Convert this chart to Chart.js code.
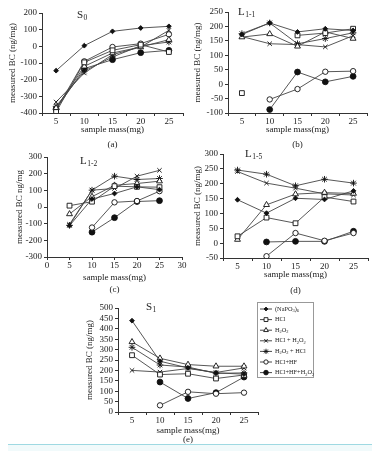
<!DOCTYPE html>
<html>
<head>
<meta charset="utf-8">
<script src="https://cdn.jsdelivr.net/npm/chart.js@4.4.1/dist/chart.umd.min.js"></script>
<style>
  html, body { margin: 0; padding: 0; background: #fff; width: 377px; height: 451px; overflow: hidden; }
  body { position: relative; }
  canvas { position: absolute; }
  #rule { position: absolute; left: 8px; top: 444px; width: 364px; height: 7px; border-top: 1px solid #9fd9e2; background: #f1fafb; }
</style>
</head>
<body>
<canvas id="panelA"></canvas>
<canvas id="panelB"></canvas>
<canvas id="panelC"></canvas>
<canvas id="panelD"></canvas>
<canvas id="panelE"></canvas>
<div id="rule"></div>
<script>
// sample masses (x axis) and the seven treatments
const masses = [5, 10, 15, 20, 25];
const massLabels = ['5', '10', '15', '20', '25'];
const seriesNames = ['(NaPO3)6', 'HCl', 'H2O2', 'HCl + H2O2', 'H2O2 + HCl', 'HCl+HF', 'HCl+HF+H2O2'];

// measured BC (ng/mg), one row per treatment in seriesNames order
const valuesS0 = [
  [-146, 4, 90, 110, 120],
  [-394, -96, -24, 10, -34],
  [-370, -120, -40, -4, 40],
  [-334, -160, -50, -4, 96],
  [-360, -148, -64, 4, 26],
  [-380, -90, -4, 16, 72],
  [-376, -134, -80, -38, -24]
];
const valuesL11 = [
  [172, 212, 181, 192, 186],
  [-31, null, 169, 177, 192],
  [163, 174, 131, 181, 158],
  [165, 140, 137, 129, 168],
  [175, 212, 140, 158, 178],
  [null, -53, -17, 43, 45],
  [null, -88, 42, 8, 27]
];
const valuesL12 = [
  [-112, 48, 81, 121, 104],
  [8, 32, 125, 121, 119],
  [-42, 62, 130, 141, 155],
  [-104, 101, 111, 185, 220],
  [-110, 101, 185, 165, 171],
  [null, -123, 28, 36, 95],
  [null, -151, -64, 33, 38]
];
const valuesL15 = [
  [146, 101, 151, 147, 176],
  [23, 86, 67, 155, 140],
  [12, 129, 165, 170, 167],
  [241, 202, 185, 166, 162],
  [246, 232, 193, 215, 202],
  [null, -44, 34, 8, 34],
  [null, 4, 6, 6, 40]
];
const valuesS1 = [
  [439, 244, 212, 188, 182],
  [273, 180, 184, 161, 178],
  [337, 258, 228, 220, 220],
  [200, 192, 209, 190, 212],
  [311, 226, 216, 186, 188],
  [null, 32, 97, 88, 93],
  [null, 144, 65, 93, 168]
];

// y axis ticks per panel: min, max, step
const ticksS0 = [-400, 200, 100];
const ticksL11 = [-100, 250, 50];
const ticksL12 = [-300, 300, 100];
const ticksL15 = [-50, 300, 50];
const ticksS1 = [0, 500, 50];

const FONT = '"Liberation Serif", "Times New Roman", serif';
const INK = '#222';

const markerStyles = [
  { shape: 'rectRot', r: 2.4, fill: '#111' },
  { shape: 'rect', r: 3.4, fill: '#fff' },
  { shape: 'triangle', r: 3.4, fill: '#fff' },
  { shape: 'crossRot', r: 3.1, fill: '#fff' },
  { shape: 'star', r: 3.3, fill: '#fff' },
  { shape: 'circle', r: 2.7, fill: '#fff' },
  { shape: 'circle', r: 2.9, fill: '#111' }
];

// text with digits set as subscripts (chemical formulas)
function drawFormula(ctx, text, x, y, size) {
  let cx = x;
  for (const part of text.match(/\d+|[^\d]+/g)) {
    const sub = /^\d/.test(part);
    ctx.font = (sub ? size * 0.7 : size) + 'px ' + FONT;
    ctx.fillText(part, cx, y + (sub ? size * 0.3 : 0));
    cx += ctx.measureText(part).width;
  }
}

const panelLabel = {
  id: 'panelLabel',
  afterDraw(chart, args, opts) {
    const ctx = chart.ctx;
    ctx.save();
    ctx.fillStyle = INK;
    ctx.textBaseline = 'middle';
    ctx.textAlign = 'left';
    ctx.font = '11px ' + FONT;
    ctx.fillText(opts.main, opts.x, opts.y);
    const w = ctx.measureText(opts.main).width;
    ctx.font = '7.5px ' + FONT;
    ctx.fillText(opts.sub, opts.x + w + 0.5, opts.y + 3.5);
    ctx.restore();
  }
};

const boxLegend = {
  id: 'boxLegend',
  afterDraw(chart, args, opts) {
    if (!opts.show) return;
    const ctx = chart.ctx;
    ctx.save();
    ctx.strokeStyle = '#999';
    ctx.lineWidth = 1;
    ctx.strokeRect(opts.x + 0.5, opts.y + 0.5, opts.w, opts.h);
    chart.data.datasets.forEach((ds, i) => {
      const y = opts.y + 7 + i * opts.row;
      ctx.strokeStyle = '#333';
      ctx.lineWidth = 0.9;
      ctx.beginPath();
      ctx.moveTo(opts.x + 3, y);
      ctx.lineTo(opts.x + 15, y);
      ctx.stroke();
      const m = markerStyles[i];
      ctx.fillStyle = m.fill;
      ctx.strokeStyle = '#111';
      Chart.helpers.drawPoint(ctx, { pointStyle: m.shape, radius: m.r * 0.8, rotation: 0, borderWidth: 0.9 }, opts.x + 9, y);
      ctx.fillStyle = INK;
      ctx.textBaseline = 'middle';
      ctx.textAlign = 'left';
      drawFormula(ctx, ds.label, opts.x + 18, y, 6.3);
    });
    ctx.restore();
  }
};

const panels = [
  { id: 'panelA', values: valuesS0, yTicks: ticksS0, name: ['S', '0'], nameAt: [77, 15],
    box: [42, 13, 183, 113], yTitleX: 13, t1: 17, t2: 32, yTitle: 'measured BC (ng/mg)', tag: '(a)' },
  { id: 'panelB', values: valuesL11, yTicks: ticksL11, name: ['L', '1-1'], nameAt: [238, 12],
    box: [228, 12, 367, 113], yTitleX: 198, t1: 17, t2: 32, yTitle: 'measured BC (ng/mg)', tag: '(b)' },
  { id: 'panelC', values: valuesL12, yTicks: ticksL12, name: ['L', '1-2'], nameAt: [80, 161],
    box: [47, 157, 182, 257], yTitleX: 20, t1: 21, t2: 33, yTitle: 'measured BC ng/mg', tag: '(c)', linearX: true },
  { id: 'panelD', values: valuesL15, yTicks: ticksL15, name: ['L', '1-5'], nameAt: [245, 154],
    box: [223, 154, 368, 258], yTitleX: 198, t1: 17, t2: 33, yTitle: 'measured BC (ng/mg)', tag: '(d)' },
  { id: 'panelE', values: valuesS1, yTicks: ticksS1, name: ['S', '1'], nameAt: [146, 307],
    box: [118, 308, 258, 412], yTitleX: 90, t1: 19, t2: 28, yTitle: 'measured BC (ng/mg)', tag: '(e)',
    padRight: 119, legend: { x: 257, y: 302, w: 56, h: 75, row: 10.6 } }
];

function buildPanel(p) {
  const [L, T, R, B] = p.box;
  const left = p.yTitleX - 8;
  const top = T - 8;
  const padRight = p.padRight || 8;
  const lh = p.t2 - p.t1;
  const xH = p.t2 + lh / 2;
  const width = Math.round(R + padRight - left);
  const height = Math.ceil(B - top + xH);
  const padBottom = height - (B - top) - xH;

  const cv = document.getElementById(p.id);
  cv.width = width;
  cv.height = height;
  cv.style.left = left + 'px';
  cv.style.top = top + 'px';

  const datasets = p.values.map((vals, i) => {
    const m = markerStyles[i];
    return {
      label: seriesNames[i],
      data: p.linearX ? vals.map((v, j) => ({ x: masses[j], y: v })) : vals,
      borderColor: '#444',
      borderWidth: 0.9,
      pointStyle: m.shape,
      pointRadius: m.r,
      pointBackgroundColor: m.fill,
      pointBorderColor: '#111',
      pointBorderWidth: 0.9,
      tension: 0,
      spanGaps: false
    };
  });

  const tickFont = { family: FONT, size: 9, lineHeight: 0.9 };
  const gridBits = { drawOnChartArea: false, drawTicks: true, tickLength: 3, color: '#333' };
  const borderBits = { display: true, color: '#333', width: 1 };

  const xScale = p.linearX
    ? { type: 'linear', min: 0, max: 30, ticks: { stepSize: 5, font: tickFont, color: INK, padding: 2, maxRotation: 0 } }
    : { type: 'category', offset: true, ticks: { font: tickFont, color: INK, padding: 2, maxRotation: 0, autoSkip: false } };
  Object.assign(xScale, {
    grid: Object.assign({}, gridBits, { offset: !p.linearX }),
    border: borderBits,
    title: {
      display: true,
      text: ['sample mass(mg)', p.tag],
      color: INK,
      font: { family: FONT, size: 9, lineHeight: lh + 'px' },
      padding: { top: 0, bottom: 0 }
    },
    afterFit(scale) { scale.height = xH; }
  });

  new Chart(cv, {
    type: 'line',
    data: { labels: massLabels, datasets: datasets },
    options: {
      responsive: false,
      animation: false,
      devicePixelRatio: 1,
      layout: { padding: { left: 0, top: 8, right: padRight, bottom: padBottom } },
      plugins: {
        legend: { display: false },
        tooltip: { enabled: false },
        panelLabel: { main: p.name[0], sub: p.name[1], x: p.nameAt[0] - left, y: p.nameAt[1] - top },
        boxLegend: p.legend
          ? { show: true, x: p.legend.x - left, y: p.legend.y - top, w: p.legend.w, h: p.legend.h, row: p.legend.row }
          : { show: false }
      },
      scales: {
        x: xScale,
        y: {
          type: 'linear',
          min: p.yTicks[0],
          max: p.yTicks[1],
          ticks: { stepSize: p.yTicks[2], font: tickFont, color: INK, padding: 2, autoSkip: false, maxTicksLimit: 20 },
          grid: gridBits,
          border: borderBits,
          title: {
            display: true,
            text: p.yTitle,
            color: INK,
            font: { family: FONT, size: 9 },
            padding: { top: 2.6, bottom: 0 }
          },
          afterFit(scale) { scale.width = L - left; }
        }
      }
    },
    plugins: [panelLabel, boxLegend]
  });
}

panels.forEach(buildPanel);
</script>
</body>
</html>
